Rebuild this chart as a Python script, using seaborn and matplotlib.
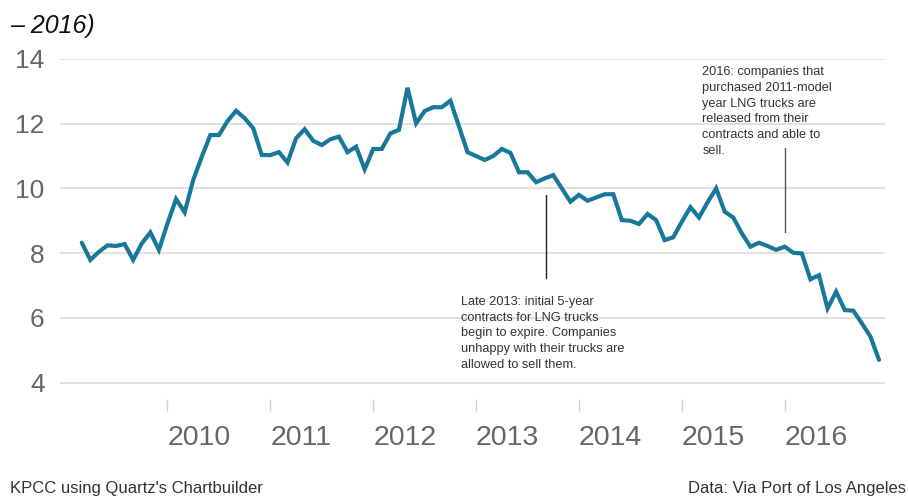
import pandas as pd
import matplotlib
matplotlib.use("Agg")
import matplotlib.pyplot as plt
import seaborn as sns

# ==========================================
# Data (monthly)
# ==========================================
start_month = "2009-03-01"
values = [
    8.32, 7.79, 8.04, 8.24, 8.22, 8.28, 7.79, 8.30, 8.64, 8.10,
    8.92, 9.67, 9.26, 10.26, 10.98, 11.65, 11.65, 12.08, 12.40, 12.17,
    11.86, 11.03, 11.03, 11.12, 10.80, 11.55, 11.83, 11.47, 11.34, 11.52,
    11.60, 11.12, 11.29, 10.59, 11.22, 11.22, 11.70, 11.81, 13.11, 12.01,
    12.39, 12.51, 12.51, 12.71, 11.92, 11.12, 11.00, 10.88, 11.00, 11.22,
    11.10, 10.50, 10.50, 10.19, 10.31, 10.41, 10.00, 9.59, 9.80, 9.62,
    9.72, 9.82, 9.82, 9.02, 9.00, 8.90, 9.21, 9.02, 8.40, 8.49,
    8.97, 9.42, 9.10, 9.57, 10.00, 9.28, 9.10, 8.61, 8.20, 8.32,
    8.22, 8.10, 8.20, 8.01, 7.99, 7.19, 7.32, 6.29, 6.81, 6.24,
    6.22, 5.83, 5.42, 4.70,
]
year_ticks = [2010, 2011, 2012, 2013, 2014, 2015, 2016]
y_ticks = [4, 6, 8, 10, 12, 14]

note_2013 = ("Late 2013: initial 5-year\ncontracts for LNG trucks\n"
             "begin to expire. Companies\nunhappy with their trucks are\n"
             "allowed to sell them.")
note_2016 = ("2016: companies that\npurchased 2011-model\nyear LNG trucks are\n"
             "released from their\ncontracts and able to\nsell.")

months = pd.date_range(start_month, periods=len(values), freq="MS")
df = pd.DataFrame({"date": months, "value": values})
df["t"] = df["date"].dt.year + (df["date"].dt.month - 1) / 12

# ==========================================
# Plot
# ==========================================
sns.set_style("white")
plt.rcParams["font.family"] = ["Liberation Sans", "DejaVu Sans"]

W, H = 908, 497
fig = plt.figure(figsize=(W / 100, H / 100), dpi=100)
ax = fig.add_axes([60 / W, 1 - 398.7 / H, 825 / W, (398.7 - 59) / H])

sns.lineplot(data=df, x="t", y="value", ax=ax, color="#19779a",
             linewidth=3.0, solid_joinstyle="miter", zorder=3)

ax.set_xlim(2008.955, 2016.975)
ax.set_ylim(3.5, 14)
ax.set_xlabel("")
ax.set_ylabel("")

for s in ax.spines.values():
    s.set_visible(False)

ax.set_yticks(y_ticks)
ax.yaxis.grid(True, color="#dcdcdc", linewidth=1.2)
ax.set_axisbelow(True)
ax.tick_params(axis="y", length=0, pad=11, labelsize=19, labelcolor="#666666")

ax.set_xticks(year_ticks)
ax.set_xticklabels([str(y) for y in year_ticks], ha="left")
ax.tick_params(axis="x", bottom=True, direction="out", length=8.6, width=1,
               color="#d0d0d0", pad=10, labelsize=20.5, labelcolor="#666666")

# annotation leaders
ax.plot([2013.675, 2013.675], [7.23, 9.80], color="#222222", lw=1.0, zorder=4)
ax.plot([2016.0, 2016.0], [8.65, 11.25], color="#555555", lw=1.0, zorder=4)

ax.text(2012.85, 6.68, note_2013, fontsize=9.2, color="#333333",
        va="top", ha="left", linespacing=1.42)
ax.text(2015.2, 13.78, note_2016, fontsize=9.2, color="#333333",
        va="top", ha="left", linespacing=1.42)

# title fragment and footer
fig.text(10 / W, 1 - 14 / H, "\u2013 2016)", fontsize=18, style="italic",
         color="#111111", va="top", ha="left")
fig.text(10 / W, 1 - 489 / H, "KPCC using Quartz's Chartbuilder",
         fontsize=12, color="#333333", va="center", ha="left")
fig.text(906 / W, 1 - 489 / H, "Data: Via Port of Los Angeles",
         fontsize=12, color="#333333", va="center", ha="right")

fig.savefig("out.png", dpi=100)
plt.close(fig)
print("Saved out.png")
